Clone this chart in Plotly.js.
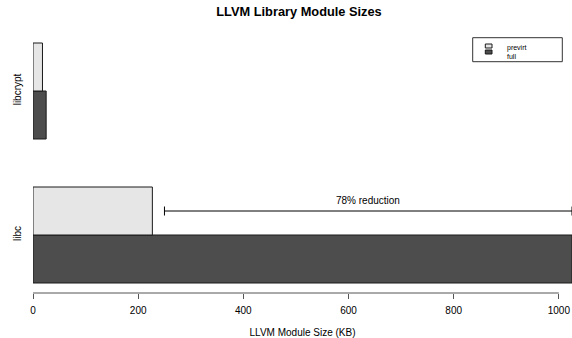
<!DOCTYPE html>
<html>
<head>
<meta charset="utf-8">
<script src="https://cdn.plot.ly/plotly-3.0.1.min.js"></script>
<style>
  html, body { margin: 0; padding: 0; background: #fff; }
  #chart { width: 572px; height: 338px; }
</style>
</head>
<body>
<div id="chart"></div>
<script>
// ---- data ----
const categories = ['libc', 'libcrypt'];          // bottom to top
const previrtSizes = [227, 18];
const fullSizes = [1025, 25];
const seriesNames = ['previrt', 'full'];
const xTickValues = [0, 200, 400, 600, 800, 1000];
const reductionLabel = '78% reduction';
const reductionStart = 250;
const chartTitle = 'LLVM Library Module Sizes';
const xAxisTitle = 'LLVM Module Size (KB)';

// ---- styles / layout constants ----
const W = 572, H = 338;
const M = { l: 33, r: 0, t: 30, b: 45 };
const PW = W - M.l - M.r, PH = H - M.t - M.b;
const BARGAP = 1 / 3;
const FONT = 'Liberation Sans, Arial, Helvetica, sans-serif';
const COL_PREVIRT = '#e6e6e6';
const COL_FULL = '#4d4d4d';
const EDGE = '#1a1a1a';

const px2x = p => (p - M.l) / PW;
const px2y = p => (M.t + PH - p) / PH;

const yIdx = categories.map((c, i) => i);
const libcI = categories.indexOf('libc');

const traces = [
  {
    type: 'bar', orientation: 'h', name: seriesNames[1],
    x: fullSizes, y: yIdx,
    marker: { color: COL_FULL, line: { color: EDGE, width: 1 } },
    hoverinfo: 'x+name'
  },
  {
    type: 'bar', orientation: 'h', name: seriesNames[0],
    x: previrtSizes, y: yIdx,
    marker: { color: COL_PREVIRT, line: { color: EDGE, width: 1 } },
    hoverinfo: 'x+name'
  },
  {
    // reduction bracket, aligned with the previrt bar of libc
    type: 'scatter', mode: 'markers', showlegend: false, hoverinfo: 'skip',
    x: [fullSizes[libcI]],
    y: [yIdx[libcI] + (1 - BARGAP) / 4],
    marker: { size: 1, opacity: 0 },
    cliponaxis: false,
    error_x: {
      type: 'data', symmetric: false,
      array: [0], arrayminus: [fullSizes[libcI] - reductionStart],
      color: '#000', thickness: 1, width: 4.5
    }
  }
];

const legendBox = { x0: 472.7, x1: 562.3, y0: 37.7, y1: 61.7 };
const legendRows = [
  { name: seriesNames[0], color: COL_PREVIRT, sy0: 44, sy1: 48, ty: 48 },
  { name: seriesNames[1], color: COL_FULL, sy0: 50, sy1: 54, ty: 56.3 }
];

const shapes = [
  // x axis line spanning first to last tick
  { type: 'line', xref: 'x', yref: 'paper',
    x0: xTickValues[0], x1: xTickValues[xTickValues.length - 1], y0: 0, y1: 0,
    line: { color: '#555', width: 1 } },
  // legend frame
  { type: 'rect', xref: 'paper', yref: 'paper',
    x0: px2x(legendBox.x0), x1: px2x(legendBox.x1),
    y0: px2y(legendBox.y1), y1: px2y(legendBox.y0),
    line: { color: '#333', width: 1 }, fillcolor: 'rgba(0,0,0,0)' }
];
const annotations = [
  { xref: 'x', yref: 'y',
    x: (reductionStart + fullSizes[libcI]) / 2,
    y: yIdx[libcI] + (1 - BARGAP) / 4,
    yshift: 11, text: reductionLabel, showarrow: false,
    font: { family: FONT, size: 10, color: '#000' } }
];
legendRows.forEach(r => {
  shapes.push({ type: 'rect', xref: 'paper', yref: 'paper',
    x0: px2x(485.3), x1: px2x(492), y0: px2y(r.sy1), y1: px2y(r.sy0),
    line: { color: EDGE, width: 1 }, fillcolor: r.color });
  annotations.push({ xref: 'paper', yref: 'paper',
    x: px2x(506), y: px2y(r.ty), xanchor: 'left', yanchor: 'middle',
    text: r.name, showarrow: false, borderpad: 0,
    font: { family: FONT, size: 7, color: '#000' } });
});

const layout = {
  width: W, height: H,
  margin: M,
  paper_bgcolor: '#fff', plot_bgcolor: '#fff',
  font: { family: FONT, size: 10, color: '#000' },
  showlegend: false,
  barmode: 'group', bargap: BARGAP, bargroupgap: 0,
  title: {
    text: chartTitle, xref: 'container', yref: 'container',
    x: 299 / W, y: 1 - 12 / H, xanchor: 'center', yanchor: 'middle',
    font: { family: FONT, size: 12.8, weight: 'bold', color: '#000' }
  },
  xaxis: {
    range: [0, fullSizes[libcI]], autorange: false,
    tickmode: 'array', tickvals: xTickValues, ticktext: xTickValues.map(String),
    ticks: 'outside', ticklen: 5, tickcolor: '#555', tickwidth: 1,
    ticklabelstandoff: 3,
    showline: false, showgrid: false, zeroline: false,
    tickfont: { family: FONT, size: 10, color: '#000' },
    title: { text: xAxisTitle, standoff: 19, font: { family: FONT, size: 10, color: '#000' } },
    automargin: false, fixedrange: true
  },
  yaxis: {
    range: [-0.4028, 1.4236], autorange: false,
    tickmode: 'array', tickvals: yIdx, ticktext: categories,
    tickangle: -90, ticks: '', showline: false, showgrid: false, zeroline: false,
    ticklabelstandoff: 9,
    tickfont: { family: FONT, size: 10, color: '#000' },
    automargin: false, fixedrange: true
  },
  shapes: shapes,
  annotations: annotations
};

Plotly.newPlot('chart', traces, layout, { staticPlot: true, displayModeBar: false });
</script>
</body>
</html>
